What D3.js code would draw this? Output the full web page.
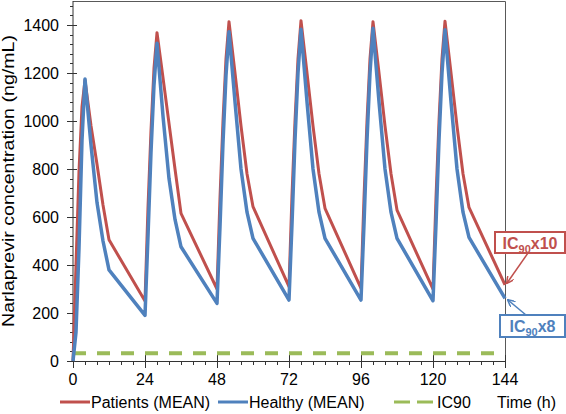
<!DOCTYPE html>
<html>
<head>
<meta charset="utf-8">
<script src="https://cdn.jsdelivr.net/npm/d3@7"></script>
<style>
  html, body { margin: 0; padding: 0; background: #fff; }
  svg { display: block; }
  svg text { font-family: "Liberation Sans", Arial, Helvetica, sans-serif; }
</style>
</head>
<body>
<svg id="chart" width="566" height="414"></svg>
<script>
// ---- data ----
const times = [0,1,2,3,4,6,8,10,12,
  24,25,26,27,28,30,32,34,36,
  48,49,50,51,52,54,56,58,60,
  72,73,74,75,76,78,80,82,84,
  96,97,98,99,100,102,104,106,108,
  120,121,122,123,124,126,128,130,132,
  144];
const patients = [0,400,790,1060,1170,980,820,650,505,
  250,640,960,1220,1368,1180,990,800,615,
  300,680,1000,1260,1414,1200,980,780,643,
  310,690,1000,1260,1418,1200,980,780,636,
  303,680,1000,1260,1414,1200,980,780,629,
  299,680,1000,1260,1416,1200,980,780,640,
  317];
const healthy = [0,120,470,920,1175,900,660,500,380,
  190,520,870,1150,1324,1020,760,590,476,
  240,560,910,1190,1372,1080,800,620,511,
  254,570,920,1200,1382,1080,800,620,511,
  254,570,920,1200,1386,1080,800,620,511,
  251,570,920,1200,1380,1080,800,620,515,
  261];
const ic90 = 32;
const xTicks = [0,24,48,72,96,120,144];
const yTicks = [0,200,400,600,800,1000,1200,1400];
const seriesNames = ["Patients (MEAN)", "Healthy (MEAN)", "IC90"];
const xTitle = "Time (h)";
const yTitle = "Narlaprevir concentration (ng/mL)";

// ---- layout ----
const C = { red: "#C0504D", blue: "#4F81BD", green: "#9BBB59", axis: "#595959" };
const FONT = '"Liberation Sans", Arial, Helvetica, sans-serif';
const svg = d3.select("#chart");
const x = d3.scaleLinear().domain([0,144]).range([73,505]);
const y = d3.scaleLinear().domain([0,1500]).range([361,1]);

// frame (top & right)
svg.append("path").attr("d", `M${x(0)},${y(1500)+0.5}H${x(144)+0.5}V${y(0)}`)
  .attr("fill","none").attr("stroke",C.axis).attr("stroke-width",1);

// y axis
const yAx = svg.append("g").attr("transform",`translate(${x(0)},0)`);
yAx.append("line").attr("x1",0).attr("x2",0).attr("y1",y(1500)).attr("y2",y(0)).attr("stroke","#333");
yAx.selectAll("line.minor").data(d3.range(0,1501,40)).enter().append("line")
  .attr("x1",-3).attr("x2",0).attr("y1",d=>Math.round(y(d))+0.5).attr("y2",d=>Math.round(y(d))+0.5).attr("stroke","#333");
yAx.selectAll("line.major").data(yTicks).enter().append("line")
  .attr("x1",-6).attr("x2",4).attr("y1",d=>Math.round(y(d))+0.5).attr("y2",d=>Math.round(y(d))+0.5).attr("stroke","#333");
yAx.selectAll("text").data(yTicks).enter().append("text")
  .attr("x",-14).attr("y",d=>y(d)).attr("dy","0.35em").attr("text-anchor","end")
  .attr("font-family",FONT).attr("font-size",16).attr("fill","#000").text(d=>d);

// x axis
const xAx = svg.append("g").attr("transform",`translate(0,${y(0)})`);
xAx.append("line").attr("x1",x(0)).attr("x2",x(144)).attr("y1",0.5).attr("y2",0.5).attr("stroke","#333");
xAx.selectAll("line.minor").data(d3.range(0,145,4)).enter().append("line")
  .attr("x1",d=>Math.round(x(d))+0.5).attr("x2",d=>Math.round(x(d))+0.5).attr("y1",0).attr("y2",4).attr("stroke","#333");
xAx.selectAll("line.major").data(xTicks).enter().append("line")
  .attr("x1",d=>Math.round(x(d))+0.5).attr("x2",d=>Math.round(x(d))+0.5).attr("y1",-6).attr("y2",7).attr("stroke","#333");
xAx.selectAll("text").data(xTicks).enter().append("text")
  .attr("x",d=>x(d)).attr("y",24).attr("text-anchor","middle")
  .attr("font-family",FONT).attr("font-size",16).attr("fill","#000").text(d=>d);

// y title
svg.append("text").attr("transform",`translate(14,${(y(0)+y(1500))/2}) rotate(-90)`)
  .attr("text-anchor","middle").attr("font-family",FONT).attr("font-size",17)
  .attr("textLength",292).attr("lengthAdjust","spacingAndGlyphs")
  .attr("fill","#000").text(yTitle);

// IC90 line
svg.append("line").attr("x1",x(0)).attr("x2",x(142)).attr("y1",y(ic90)).attr("y2",y(ic90))
  .attr("stroke",C.green).attr("stroke-width",4).attr("stroke-dasharray","13,11");

// series
const line = d3.line().x((d,i)=>x(times[i])).y(d=>y(d));
svg.append("path").datum(patients).attr("d",line).attr("fill","none")
  .attr("stroke",C.red).attr("stroke-width",3).attr("stroke-linejoin","round");
svg.append("path").datum(healthy).attr("d",line).attr("fill","none")
  .attr("stroke",C.blue).attr("stroke-width",3.5).attr("stroke-linejoin","round");

// annotations
const defs = svg.append("defs");
[["ahR",C.red],["ahB",C.blue]].forEach(([id,c])=>{
  defs.append("marker").attr("id",id).attr("viewBox","0 0 10 10").attr("refX",9).attr("refY",5)
    .attr("markerWidth",5).attr("markerHeight",5).attr("orient","auto")
    .append("path").attr("d","M0,0L10,5L0,10").attr("fill","none").attr("stroke",c).attr("stroke-width",2);
});
function box(x0,y0,w,h,c,main){
  svg.append("rect").attr("x",x0).attr("y",y0).attr("width",w).attr("height",h)
    .attr("fill","#fff").attr("stroke",c).attr("stroke-width",2);
  const t = svg.append("text").attr("x",x0+w/2).attr("y",y0+h/2+6).attr("text-anchor","middle")
    .attr("font-family",FONT).attr("font-size",16).attr("font-weight","bold").attr("fill",c);
  t.append("tspan").text("IC");
  t.append("tspan").attr("font-size",11).attr("dy",4).text("90");
  t.append("tspan").attr("dy",-4).text(main);
}
svg.append("line").attr("x1",528).attr("y1",253).attr("x2",507).attr("y2",283)
  .attr("stroke",C.red).attr("stroke-width",1.5).attr("marker-end","url(#ahR)");
svg.append("line").attr("x1",526).attr("y1",315).attr("x2",508).attr("y2",300)
  .attr("stroke",C.blue).attr("stroke-width",1.5).attr("marker-end","url(#ahB)");
box(495,232,70,21,C.red,"x10");
box(500,315,65,22,C.blue,"x8");

// legend
const ly = 402;
const lg = svg.append("g").attr("font-family",FONT).attr("font-size",16).attr("fill","#000");
lg.append("line").attr("x1",60).attr("x2",90).attr("y1",ly).attr("y2",ly).attr("stroke",C.red).attr("stroke-width",3);
lg.append("text").attr("x",91).attr("y",ly).attr("dy","0.35em").text(seriesNames[0]);
lg.append("line").attr("x1",218).attr("x2",248).attr("y1",ly).attr("y2",ly).attr("stroke",C.blue).attr("stroke-width",3);
lg.append("text").attr("x",249).attr("y",ly).attr("dy","0.35em").text(seriesNames[1]);
lg.append("line").attr("x1",394).attr("x2",433).attr("y1",ly).attr("y2",ly).attr("stroke",C.green).attr("stroke-width",3).attr("stroke-dasharray","16,7");
lg.append("text").attr("x",437).attr("y",ly).attr("dy","0.35em").text(seriesNames[2]);
lg.append("text").attr("x",497).attr("y",ly).attr("dy","0.35em").text(xTitle);
</script>
</body>
</html>
